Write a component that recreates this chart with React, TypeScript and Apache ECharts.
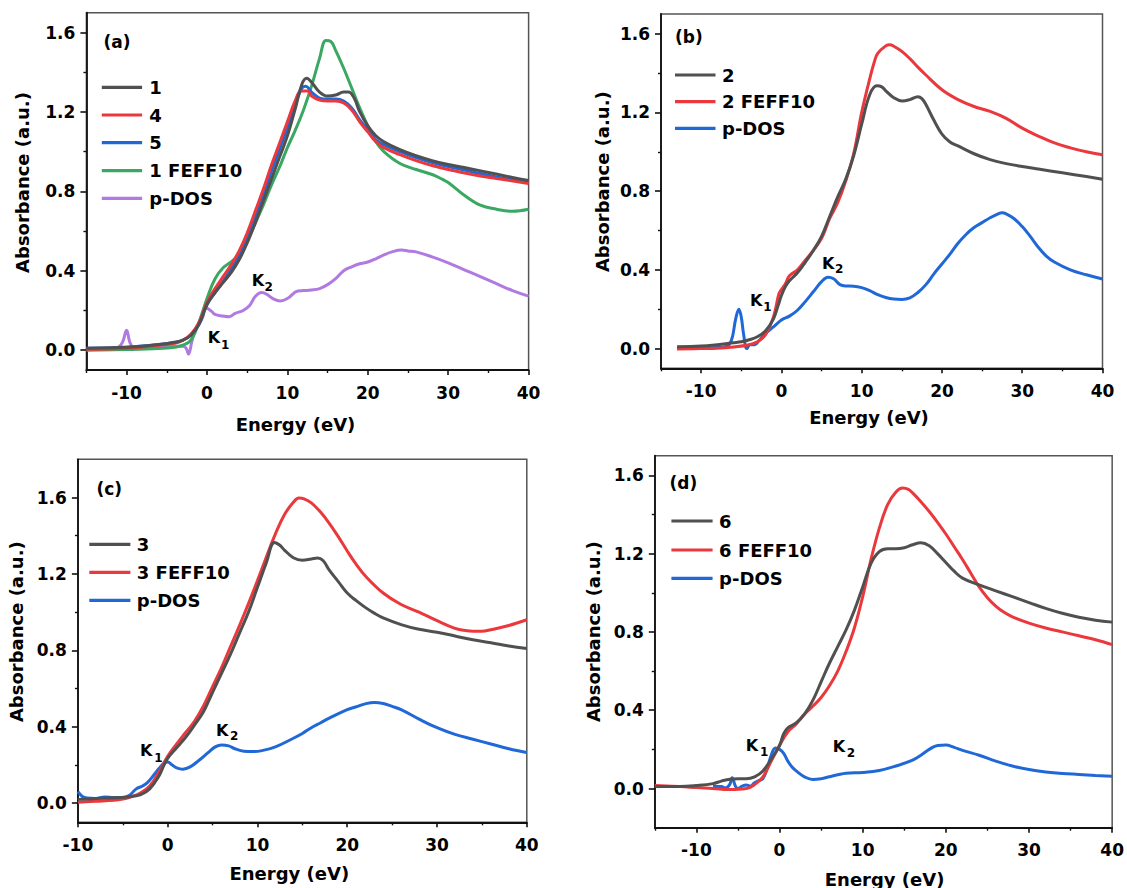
import React, { useEffect, useRef } from "react";
import * as echarts from "echarts";

// ---------------- data ----------------
// Panel (a)
const A_1: number[][] = [[-15,0.01],[-12,0.012],[-10,0.015],[-8,0.02],[-6,0.028],[-4,0.04],[-3,0.05],[-2,0.075],[-1,0.13],[0,0.23],[1,0.29],[2,0.34],[3,0.39],[4,0.455],[5,0.54],[6,0.64],[7,0.75],[8,0.86],[9,0.97],[10,1.08],[11,1.22],[11.8,1.34],[12.4,1.37],[13,1.35],[14,1.3],[15,1.28],[16,1.285],[17,1.3],[17.6,1.3],[18.3,1.27],[19,1.2],[20,1.13],[21,1.08],[22,1.05],[24,1.01],[26,0.98],[28,0.955],[30,0.935],[32,0.92],[35,0.895],[38,0.87],[40,0.855]];
const A_4: number[][] = [[-15,0.005],[-10,0.01],[-6,0.025],[-4,0.035],[-3,0.05],[-2,0.08],[-1,0.14],[0,0.24],[1,0.31],[2,0.37],[3,0.43],[4,0.5],[5,0.59],[6,0.7],[7,0.81],[8,0.93],[9,1.04],[10,1.15],[11,1.26],[11.7,1.305],[12.5,1.305],[13,1.28],[14,1.26],[15,1.255],[16,1.255],[17,1.245],[18,1.21],[19,1.15],[20,1.1],[21,1.05],[22,1.02],[24,0.985],[26,0.955],[28,0.93],[30,0.91],[33,0.885],[36,0.865],[40,0.84]];
const A_5: number[][] = [[-15,0.01],[-10,0.015],[-6,0.028],[-4,0.04],[-3,0.05],[-2,0.075],[-1,0.13],[0,0.23],[1,0.29],[2,0.345],[3,0.41],[4,0.48],[5,0.57],[6,0.67],[7,0.78],[8,0.9],[9,1.01],[10,1.12],[11,1.24],[11.8,1.32],[12.3,1.33],[13,1.3],[14,1.27],[15,1.265],[16,1.265],[17,1.255],[18,1.22],[19,1.16],[20,1.11],[21,1.06],[22,1.035],[24,1.0],[26,0.97],[28,0.945],[30,0.925],[34,0.89],[37,0.865],[40,0.845]];
const A_FEFF: number[][] = [[-15,0.0],[-10,0.003],[-6,0.008],[-4,0.015],[-3,0.025],[-2,0.05],[-1,0.14],[0,0.26],[1,0.36],[2,0.415],[3,0.445],[4,0.48],[5,0.55],[6,0.64],[7,0.73],[8,0.83],[9,0.92],[10,1.02],[11,1.11],[12,1.21],[13,1.33],[14,1.47],[14.8,1.56],[15.4,1.555],[16,1.51],[17,1.42],[18,1.32],[19,1.22],[20,1.13],[21,1.05],[22,1.0],[24,0.94],[26,0.91],[28,0.885],[29.3,0.86],[30,0.845],[32,0.78],[34,0.73],[36,0.71],[38,0.7],[40,0.71]];
const A_PDOS: number[][] = [[-13.5,0.005],[-12,0.007],[-11,0.015],[-10.5,0.04],[-10,0.1],[-9.6,0.04],[-9.2,0.015],[-8,0.008],[-7,0.01],[-6,0.02],[-5.7,0.025],[-5,0.015],[-4,0.02],[-3,0.02],[-2.6,0.01],[-2.3,-0.02],[-1.9,0.04],[-1.5,0.1],[-1,0.13],[-0.5,0.17],[-0.2,0.215],[0.5,0.198],[1,0.18],[2,0.172],[2.7,0.168],[3.5,0.185],[4.5,0.2],[5.3,0.225],[6,0.27],[6.8,0.29],[7.5,0.28],[8.2,0.26],[9.1,0.248],[10,0.26],[11.3,0.298],[12,0.3],[13,0.303],[14,0.31],[15,0.33],[16,0.36],[17,0.4],[18,0.42],[19,0.435],[20,0.444],[21,0.46],[22,0.48],[23,0.495],[24.2,0.504],[25,0.5],[26,0.495],[28,0.47],[30,0.44],[32,0.405],[34,0.37],[36,0.335],[38,0.3],[40,0.272]];

// Panel (b)
const B_2: number[][] = [[-13,0.01],[-10,0.013],[-8,0.02],[-6,0.03],[-5,0.035],[-4,0.045],[-3,0.06],[-2,0.09],[-1,0.15],[-0.4,0.22],[0,0.27],[0.5,0.315],[1,0.345],[2,0.385],[3,0.44],[4,0.5],[5,0.57],[6,0.67],[7,0.77],[8,0.86],[9,0.98],[10,1.14],[11,1.29],[11.9,1.335],[12.5,1.33],[13,1.31],[14,1.275],[15,1.258],[16,1.265],[17,1.28],[17.5,1.27],[18,1.24],[19,1.16],[20,1.09],[21,1.05],[22,1.03],[24,0.99],[26,0.96],[28,0.94],[30,0.925],[32,0.912],[35,0.893],[38,0.874],[40,0.86]];
const B_FEFF: number[][] = [[-13,-0.002],[-10,0.0],[-8,0.002],[-6,0.008],[-4,0.02],[-3,0.035],[-2,0.07],[-1,0.16],[-0.3,0.28],[0,0.3],[0.5,0.33],[1,0.37],[2,0.4],[3,0.45],[4,0.5],[5,0.56],[6,0.66],[7,0.74],[8,0.85],[9,0.99],[10,1.2],[11,1.37],[11.6,1.46],[12,1.5],[13,1.538],[13.5,1.544],[14,1.536],[15,1.51],[16,1.473],[17,1.43],[18,1.39],[20,1.315],[22,1.265],[24,1.23],[26,1.205],[28,1.17],[30,1.12],[32,1.08],[34,1.045],[36,1.02],[38,1.0],[40,0.985]];
const B_PDOS: number[][] = [[-13,0.005],[-10,0.005],[-8,0.006],[-7,0.01],[-6.5,0.02],[-6.1,0.06],[-5.7,0.15],[-5.3,0.2],[-5,0.16],[-4.7,0.07],[-4.3,0.0],[-3.9,0.02],[-3.3,0.02],[-2.8,0.04],[-2,0.075],[-1,0.11],[0,0.145],[1,0.165],[2,0.195],[3,0.24],[4,0.29],[5,0.34],[5.8,0.362],[6.5,0.355],[7.3,0.325],[8,0.318],[9,0.317],[10,0.31],[11,0.295],[12,0.274],[13,0.26],[14,0.252],[15,0.25],[16,0.258],[17,0.285],[18,0.325],[19,0.38],[20,0.43],[21,0.48],[22,0.535],[23,0.58],[24,0.615],[25,0.64],[26,0.665],[27,0.685],[27.5,0.69],[28,0.685],[29,0.66],[30,0.62],[31,0.57],[32,0.515],[33,0.47],[34,0.44],[36,0.4],[38,0.375],[40,0.354]];

// Panel (c)
const C_3: number[][] = [[-10,0.02],[-8,0.025],[-6,0.028],[-4,0.035],[-3,0.045],[-2,0.075],[-1,0.14],[-0.5,0.19],[0,0.235],[1,0.29],[2,0.345],[3,0.41],[4,0.48],[5,0.58],[6,0.68],[7,0.78],[8,0.89],[9,1.0],[10,1.13],[11,1.26],[11.9,1.365],[12.5,1.35],[13,1.325],[14,1.285],[15,1.272],[16,1.278],[16.7,1.283],[17.3,1.27],[18,1.22],[19,1.16],[20,1.1],[21,1.06],[22,1.025],[23,0.995],[24,0.97],[26,0.935],[28,0.91],[30,0.895],[32,0.875],[34,0.855],[36,0.84],[38,0.823],[40,0.81]];
const C_FEFF: number[][] = [[-10,0.005],[-8,0.01],[-6,0.015],[-5,0.022],[-4,0.035],[-3,0.055],[-2,0.09],[-1,0.16],[0,0.245],[1,0.31],[2,0.37],[3,0.43],[4,0.51],[5,0.61],[6,0.71],[7,0.82],[8,0.93],[9,1.045],[10,1.165],[11,1.29],[12,1.41],[13,1.51],[14,1.575],[14.6,1.597],[15.2,1.593],[16,1.572],[17,1.525],[18,1.465],[19,1.395],[20,1.32],[21,1.25],[22,1.19],[24,1.1],[26,1.04],[28,1.0],[30,0.955],[32,0.915],[33,0.905],[34,0.9],[35,0.9],[36,0.908],[38,0.93],[40,0.96]];
const C_PDOS: number[][] = [[-10,0.06],[-9.5,0.035],[-9,0.027],[-8,0.025],[-7,0.033],[-6,0.03],[-5,0.03],[-4.3,0.04],[-3.5,0.075],[-2.8,0.09],[-2.2,0.11],[-1.5,0.15],[-1,0.18],[-0.4,0.21],[0,0.215],[0.5,0.2],[1,0.185],[1.7,0.178],[2.5,0.19],[3.5,0.225],[4.5,0.265],[5.3,0.295],[6,0.305],[6.8,0.3],[7.5,0.285],[8.5,0.272],[9.5,0.27],[10.5,0.275],[12,0.295],[14,0.34],[15,0.365],[16,0.395],[17,0.42],[18,0.445],[20,0.49],[21,0.505],[22,0.52],[23,0.527],[24,0.522],[25,0.507],[26,0.49],[28,0.44],[30,0.395],[32,0.36],[34,0.335],[36,0.31],[38,0.285],[40,0.265]];

// Panel (d)
const D_6: number[][] = [[-15,0.01],[-12,0.01],[-10,0.015],[-8,0.025],[-7,0.038],[-6,0.048],[-5,0.05],[-4,0.05],[-3,0.06],[-2,0.09],[-1,0.15],[0,0.22],[0.5,0.28],[1,0.31],[2,0.335],[3,0.38],[4,0.45],[5,0.545],[6,0.64],[7,0.725],[8,0.81],[9,0.91],[10,1.03],[11,1.15],[12,1.21],[13,1.225],[14,1.225],[15,1.23],[16,1.245],[17,1.255],[18,1.24],[19,1.2],[20,1.155],[21,1.11],[22,1.075],[24,1.04],[26,1.01],[28,0.98],[30,0.95],[32,0.92],[34,0.895],[36,0.875],[38,0.86],[40,0.85]];
const D_FEFF: number[][] = [[-15,0.015],[-12,0.01],[-10,0.005],[-8,0.0],[-6,-0.005],[-4,0.0],[-3,0.02],[-2,0.06],[-1,0.14],[0,0.22],[1,0.29],[2,0.33],[3,0.38],[4,0.42],[5,0.465],[6,0.525],[7,0.6],[8,0.7],[9,0.82],[10,0.98],[11,1.17],[12,1.33],[13,1.45],[14,1.515],[14.8,1.535],[15.5,1.528],[16,1.51],[17,1.465],[18,1.415],[19,1.36],[20,1.3],[21,1.235],[22,1.17],[23,1.1],[24,1.03],[25,0.975],[26,0.932],[27,0.9],[28,0.877],[30,0.845],[32,0.82],[34,0.8],[36,0.78],[38,0.76],[40,0.735]];
const D_PDOS: number[][] = [[-8,0.01],[-7,0.01],[-6.5,0.003],[-6,0.02],[-5.7,0.055],[-5.3,0.012],[-5,0.0],[-4.5,0.012],[-4,0.018],[-3.5,0.012],[-3,0.03],[-2.5,0.04],[-2,0.05],[-1.5,0.1],[-1,0.17],[-0.5,0.207],[0,0.2],[0.5,0.18],[1,0.14],[1.5,0.11],[2,0.09],[3,0.06],[4,0.046],[5,0.05],[6,0.06],[7,0.07],[8,0.078],[10,0.082],[12,0.092],[14,0.115],[16,0.145],[17,0.17],[18,0.2],[19,0.22],[20,0.222],[21,0.21],[22,0.195],[24,0.17],[26,0.14],[28,0.115],[30,0.097],[32,0.085],[34,0.077],[36,0.072],[38,0.067],[40,0.063]];

// tick values
const X_MAJOR = [-10, 0, 10, 20, 30, 40];
const X_MINOR = [-15, -5, 5, 15, 25, 35];
const Y_MAJOR = [0, 0.4, 0.8, 1.2, 1.6];
const Y_MINOR = [0.2, 0.6, 1.0, 1.4];

// names
const NAMES_A = ["1", "4", "5", "1 FEFF10", "p-DOS"];
const NAMES_B = ["2", "2 FEFF10", "p-DOS"];
const NAMES_C = ["3", "3 FEFF10", "p-DOS"];
const NAMES_D = ["6", "6 FEFF10", "p-DOS"];
const PANEL_TAGS = ["(a)", "(b)", "(c)", "(d)"];

// ---------------- styles / layout ----------------
const FONT = '"DejaVu Sans", "Liberation Sans", Arial, sans-serif';
const BLACK = "#505050";
const RED = "#ea383c";
const BLUE = "#2068d8";
const GREEN = "#3aa862";
const PURPLE = "#b07ae0";
const AXIS = "#111";
const TEXT = "#000";

type Panel = {
  grid: { left: number; top: number; width: number; height: number };
  xMin: number;
  yMin: number;
  yMax: number;
  series: { name: string; data: number[][]; color: string }[];
  legend: { x1: number; x2: number; tx: number; rows: number[] };
  tag: { x: number; y: number };
  yTitle: { x: number; y: number };
  xTitle: { x: number; y: number };
  k1: { x: number; y: number; sx: number; sy: number };
  k2: { x: number; y: number; sx: number; sy: number };
};

const PANELS: Panel[] = [
  {
    grid: { left: 86.4, top: 12.7, width: 442.2, height: 357.3 },
    xMin: -15, yMin: -0.1, yMax: 1.7,
    series: [
      { name: NAMES_A[0], data: A_1, color: BLACK },
      { name: NAMES_A[1], data: A_4, color: RED },
      { name: NAMES_A[2], data: A_5, color: BLUE },
      { name: NAMES_A[3], data: A_FEFF, color: GREEN },
      { name: NAMES_A[4], data: A_PDOS, color: PURPLE },
    ],
    legend: { x1: 101.8, x2: 142.1, tx: 149.3, rows: [87.3, 115, 142.7, 170.7, 198.3] },
    tag: { x: 103.6, y: 41.7 },
    yTitle: { x: 22.3, y: 182.5 },
    xTitle: { x: 295.5, y: 424 },
    k1: { x: 207.7, y: 337.5, sx: 221, sy: 345 },
    k2: { x: 251.7, y: 280, sx: 264.5, sy: 286.7 },
  },
  {
    grid: { left: 661, top: 14, width: 441.5, height: 354.3 },
    xMin: -15, yMin: -0.1, yMax: 1.7,
    series: [
      { name: NAMES_B[0], data: B_2, color: BLACK },
      { name: NAMES_B[1], data: B_FEFF, color: RED },
      { name: NAMES_B[2], data: B_PDOS, color: BLUE },
    ],
    legend: { x1: 675, x2: 715.5, tx: 722, rows: [75, 101.7, 128.3] },
    tag: { x: 675, y: 36.7 },
    yTitle: { x: 602.5, y: 181.7 },
    xTitle: { x: 869, y: 417.5 },
    k1: { x: 750, y: 300, sx: 763.3, sy: 306.7 },
    k2: { x: 822, y: 263, sx: 835, sy: 268.5 },
  },
  {
    grid: { left: 77.9, top: 459.3, width: 448.9, height: 363 },
    xMin: -10, yMin: -0.1, yMax: 1.8,
    series: [
      { name: NAMES_C[0], data: C_3, color: BLACK },
      { name: NAMES_C[1], data: C_FEFF, color: RED },
      { name: NAMES_C[2], data: C_PDOS, color: BLUE },
    ],
    legend: { x1: 89.3, x2: 130.4, tx: 136.8, rows: [544.3, 572.3, 600.3] },
    tag: { x: 96.4, y: 488.8 },
    yTitle: { x: 16, y: 631.7 },
    xTitle: { x: 289.3, y: 873 },
    k1: { x: 140, y: 750.8, sx: 154.3, sy: 757.5 },
    k2: { x: 216, y: 730.8, sx: 230, sy: 736.2 },
  },
  {
    grid: { left: 654.8, top: 455.7, width: 458.5, height: 372 },
    xMin: -15, yMin: -0.2, yMax: 1.7,
    series: [
      { name: NAMES_D[0], data: D_6, color: BLACK },
      { name: NAMES_D[1], data: D_FEFF, color: RED },
      { name: NAMES_D[2], data: D_PDOS, color: BLUE },
    ],
    legend: { x1: 671.4, x2: 712.6, tx: 719.1, rows: [521, 550, 578.3] },
    tag: { x: 669.6, y: 483.3 },
    yTitle: { x: 593.5, y: 631.7 },
    xTitle: { x: 884.6, y: 879 },
    k1: { x: 745.7, y: 745, sx: 760, sy: 751.7 },
    k2: { x: 832.7, y: 746.7, sx: 846.7, sy: 753 },
  },
];

function buildOption() {
  const grid: any[] = [];
  const xAxis: any[] = [];
  const yAxis: any[] = [];
  const series: any[] = [];
  const graphic: any[] = [];
  const labelStyle = { fontFamily: FONT, fontWeight: "bold", fontSize: 17, color: TEXT };

  PANELS.forEach((p, i) => {
    grid.push({ ...p.grid, show: true, borderColor: "#555", borderWidth: 1.5, containLabel: false });
    const xMajor = X_MAJOR.filter((v) => v >= p.xMin);
    const xMinor = X_MINOR.filter((v) => v >= p.xMin);
    xAxis.push({
      type: "value", gridIndex: i, min: p.xMin, max: 40, position: "bottom",
      axisLine: { show: true, onZero: false, lineStyle: { color: AXIS, width: 1.8 } },
      axisTick: { show: true, inside: false, length: 5, customValues: xMajor, lineStyle: { color: AXIS, width: 1.6 } },
      axisLabel: { show: true, customValues: xMajor, margin: 14, ...labelStyle, formatter: (v: number) => String(v) },
      splitLine: { show: false },
    });
    xAxis.push({
      type: "value", gridIndex: i, min: p.xMin, max: 40, position: "bottom",
      axisLine: { show: false, onZero: false },
      axisTick: { show: true, inside: false, length: 3, customValues: xMinor, lineStyle: { color: AXIS, width: 1.4 } },
      axisLabel: { show: false },
      splitLine: { show: false },
    });
    yAxis.push({
      type: "value", gridIndex: i, min: p.yMin, max: p.yMax, position: "left",
      axisLine: { show: true, onZero: false, lineStyle: { color: AXIS, width: 1.8 } },
      axisTick: { show: true, inside: false, length: 6, customValues: Y_MAJOR, lineStyle: { color: AXIS, width: 1.6 } },
      axisLabel: { show: true, customValues: Y_MAJOR, margin: 11, ...labelStyle, formatter: (v: number) => v.toFixed(1) },
      splitLine: { show: false },
    });
    yAxis.push({
      type: "value", gridIndex: i, min: p.yMin, max: p.yMax, position: "left",
      axisLine: { show: false, onZero: false },
      axisTick: { show: true, inside: false, length: 3, customValues: Y_MINOR, lineStyle: { color: AXIS, width: 1.4 } },
      axisLabel: { show: false },
      splitLine: { show: false },
    });

    p.series.forEach((s, j) => {
      series.push({
        type: "line", name: s.name, xAxisIndex: 2 * i, yAxisIndex: 2 * i,
        data: s.data, symbol: "none", smooth: 0.4,
        lineStyle: { color: s.color, width: 3 }, itemStyle: { color: s.color },
        z: 10 - j,
      });
      const ry = p.legend.rows[j];
      graphic.push({
        type: "line", silent: true, z: 50,
        shape: { x1: p.legend.x1, y1: ry, x2: p.legend.x2, y2: ry },
        style: { stroke: s.color, lineWidth: 3.2 },
      });
      graphic.push({
        type: "text", silent: true, z: 50, x: p.legend.tx, y: ry,
        style: { text: s.name, fill: TEXT, fontFamily: FONT, fontWeight: "bold", fontSize: 18, align: "left", verticalAlign: "middle" },
      });
    });

    graphic.push({
      type: "text", silent: true, z: 50, x: p.tag.x, y: p.tag.y,
      style: { text: PANEL_TAGS[i], fill: TEXT, fontFamily: FONT, fontWeight: "bold", fontSize: 17, align: "left", verticalAlign: "middle" },
    });
    graphic.push({
      type: "text", silent: true, z: 50, x: p.yTitle.x, y: p.yTitle.y, rotation: Math.PI / 2,
      style: { text: "Absorbance (a.u.)", fill: TEXT, fontFamily: FONT, fontWeight: "bold", fontSize: 18, align: "center", verticalAlign: "middle" },
    });
    graphic.push({
      type: "text", silent: true, z: 50, x: p.xTitle.x, y: p.xTitle.y,
      style: { text: "Energy (eV)", fill: TEXT, fontFamily: FONT, fontWeight: "bold", fontSize: 18, align: "center", verticalAlign: "middle" },
    });
    [p.k1, p.k2].forEach((k, idx) => {
      graphic.push({
        type: "text", silent: true, z: 50, x: k.x, y: k.y,
        style: { text: "K", fill: TEXT, fontFamily: FONT, fontWeight: "bold", fontSize: 16, align: "left", verticalAlign: "middle" },
      });
      graphic.push({
        type: "text", silent: true, z: 50, x: k.sx, y: k.sy,
        style: { text: String(idx + 1), fill: TEXT, fontFamily: FONT, fontWeight: "bold", fontSize: 12, align: "left", verticalAlign: "middle" },
      });
    });
  });

  return {
    animation: false,
    backgroundColor: "#fff",
    grid, xAxis, yAxis, series, graphic,
  };
}

export default function App() {
  const ref = useRef<HTMLDivElement>(null);
  useEffect(() => {
    if (!ref.current) return;
    const chart = echarts.init(ref.current, undefined, { renderer: "svg" });
    chart.setOption(buildOption());
    return () => chart.dispose();
  }, []);
  return (
    <div
      ref={ref}
      style={{ position: "fixed", left: 0, top: 0, width: 1127, height: 888, background: "#fff" }}
    />
  );
}
